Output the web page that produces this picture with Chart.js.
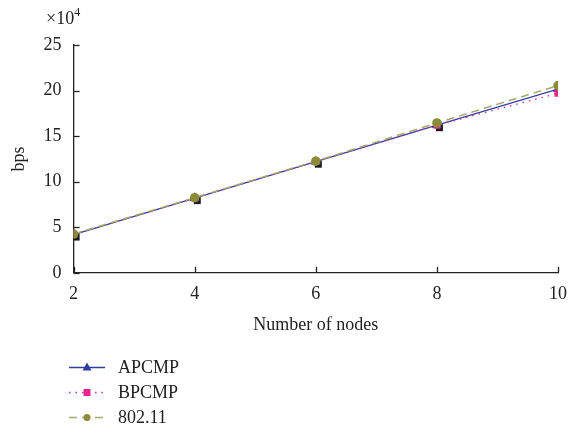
<!DOCTYPE html>
<html><head><meta charset="utf-8">
<script src="https://cdn.jsdelivr.net/npm/chart.js@4/dist/chart.umd.min.js"></script>
<style>html,body{margin:0;padding:0;background:#fff}#wrap{width:568px;height:434px;position:relative}</style>
</head><body><div id="wrap"><canvas id="c" width="568" height="434"></canvas></div>
<script>
const nodes = [2, 4, 6, 8, 10];
const apcmp = [4.2, 8.2, 12.2, 16.2, 20.15];
const bpcmp = [4.2, 8.2, 12.2, 16.2, 19.7];
const ieee = [4.25, 8.25, 12.25, 16.45, 20.55];
const yTicks = [0, 5, 10, 15, 20, 25];
const xTicks = [2, 4, 6, 8, 10];
const seriesNames = ['APCMP', 'BPCMP', '802.11'];

const FONT = '"Liberation Serif", "DejaVu Serif", serif';
const toXY = (arr) => arr.map((v, i) => ({x: nodes[i], y: v}));

const sq = document.createElement('canvas');
sq.width = 18; sq.height = 18;
{ const g = sq.getContext('2d'); g.fillStyle = '#1a1a1a'; g.fillRect(8, 8, 7, 7); }

const inwardTicks = {
  id: 'inwardTicks',
  afterDatasetsDraw(chart) {
    const ctx = chart.ctx, xs = chart.scales.x, ys = chart.scales.y;
    ctx.save();
    ctx.strokeStyle = '#222'; ctx.lineWidth = 1.3;
    xTicks.forEach(t => { const px = Math.round(xs.getPixelForValue(t)) + 0.5;
      ctx.beginPath(); ctx.moveTo(px, ys.bottom); ctx.lineTo(px, ys.bottom - 6); ctx.stroke(); });
    yTicks.forEach(t => { const py = Math.round(ys.getPixelForValue(t)) + 0.5;
      ctx.beginPath(); ctx.moveTo(xs.left, py); ctx.lineTo(xs.left + 6, py); ctx.stroke(); });
    ctx.fillStyle = '#222'; ctx.textBaseline = 'alphabetic'; ctx.textAlign = 'left';
    ctx.font = '18px ' + FONT;
    ctx.fillText('\u00d710', 46, 24);
    const w = ctx.measureText('\u00d710').width;
    ctx.font = '12px ' + FONT;
    ctx.fillText('4', 46 + w, 16);
    const rows = [367, 392, 417];
    chart.data.datasets.slice(0, 3).forEach((ds, i) => {
      const y = rows[i] + 0.5;
      ctx.strokeStyle = ds.borderColor; ctx.lineWidth = ds.borderWidth;
      ctx.setLineDash(ds.borderDash || []);
      ctx.beginPath(); ctx.moveTo(69, y); ctx.lineTo(105, y); ctx.stroke();
      ctx.setLineDash([]);
      ctx.fillStyle = ds.pointBackgroundColor;
      const cx = 87;
      if (ds.pointStyle === 'triangle') {
        ctx.beginPath(); ctx.moveTo(cx, y - 5); ctx.lineTo(cx + 4.5, y + 3); ctx.lineTo(cx - 4.5, y + 3); ctx.closePath(); ctx.fill();
      } else if (ds.pointStyle === 'rect') {
        ctx.fillRect(cx - 3.5, y - 3.5, 7, 7);
      } else {
        ctx.beginPath(); ctx.arc(cx, y, 3.5, 0, Math.PI * 2); ctx.fill();
      }
      ctx.fillStyle = '#222'; ctx.font = '18px ' + FONT; ctx.textBaseline = 'middle';
      ctx.fillText(seriesNames[i], 118, y + 1);
    });
    ctx.restore();
  }
};

new Chart(document.getElementById('c'), {
  type: 'line',
  data: {
    datasets: [
      {label: seriesNames[0], data: toXY(apcmp), borderColor: '#2f3da0', backgroundColor: '#2f3da0',
       pointBackgroundColor: '#2f3da0', pointBorderColor: '#2f3da0', pointStyle: 'triangle', pointRadius: 4.5,
       borderWidth: 1.3, order: 3},
      {label: seriesNames[1], data: toXY(bpcmp), borderColor: '#e62590', backgroundColor: '#e62590',
       pointBackgroundColor: '#e62590', pointBorderColor: '#e62590', pointStyle: 'rect', pointRadius: 4,
       borderWidth: 1.3, borderDash: [1.5, 5], order: 2},
      {label: seriesNames[2], data: toXY(ieee), borderColor: '#a8a86a', backgroundColor: '#8b8b38',
       pointBackgroundColor: '#8b8b38', pointBorderColor: '#8b8b38', pointStyle: 'circle', pointRadius: 4,
       borderWidth: 1.5, borderDash: [8, 5], order: 1},
      {label: '', data: toXY(apcmp), showLine: false, pointStyle: sq, pointRadius: 9,
       pointBackgroundColor: '#1a1a1a', pointBorderColor: '#1a1a1a', borderColor: '#1a1a1a', order: 4}
    ]
  },
  options: {
    responsive: false, animation: false, devicePixelRatio: 1,
    layout: {padding: {left: 4, right: 4, top: 45, bottom: 94}},
    plugins: {legend: {display: false}, tooltip: {enabled: false}},
    scales: {
      x: {type: 'linear', min: 2, max: 10,
          afterBuildTicks: s => { s.ticks = xTicks.map(v => ({value: v})); },
          grid: {display: true, drawOnChartArea: false, drawTicks: true, tickLength: 11, color: 'rgba(0,0,0,0)'},
          border: {display: true, color: '#222', width: 1.3},
          ticks: {color: '#222', font: {family: FONT, size: 18}, padding: 0},
          title: {display: true, text: 'Number of nodes', color: '#222', font: {family: FONT, size: 18}, padding: {top: 9}}},
      y: {type: 'linear', min: 0, max: 25,
          afterBuildTicks: s => { s.ticks = yTicks.map(v => ({value: v})); },
          grid: {display: false, drawTicks: false},
          border: {display: true, color: '#222', width: 1.3},
          ticks: {color: '#222', font: {family: FONT, size: 18}, padding: 12},
          title: {display: true, text: 'bps', color: '#222', font: {family: FONT, size: 18}, padding: {bottom: 2}}}
    }
  },
  plugins: [inwardTicks]
});
</script></body></html>
